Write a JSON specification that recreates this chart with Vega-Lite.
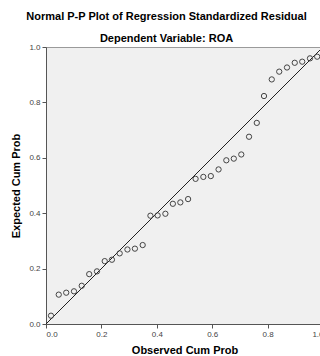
{
  "$schema": "https://vega.github.io/schema/vega-lite/v6.json",
  "width": 277,
  "height": 277,
  "autosize": {"type": "none"},
  "padding": {"left": 46, "top": 47, "right": 0, "bottom": 32},
  "background": "white",
  "title": {
    "text": ["Normal P-P Plot of Regression Standardized Residual", "Dependent Variable: ROA"],
    "font": "Liberation Sans",
    "fontSize": 11,
    "fontWeight": "bold",
    "color": "#000000",
    "lineHeight": 22,
    "anchor": "middle",
    "dx": -18,
    "offset": -1
  },
  "config": {
    "view": {"fill": "#f0f0f0", "stroke": "#9a9a9a", "strokeWidth": 1},
    "axis": {
      "labelFont": "Liberation Sans",
      "labelFontSize": 8,
      "labelColor": "#444444",
      "titleFont": "Liberation Sans",
      "titleFontSize": 11,
      "titleFontWeight": "bold",
      "titleColor": "#000000",
      "domainColor": "#555555",
      "tickColor": "#555555",
      "tickSize": 4,
      "grid": false
    }
  },
  "datasets": {
    "pts": [
      {"obs": 0.018, "exp": 0.030},
      {"obs": 0.046, "exp": 0.106},
      {"obs": 0.073, "exp": 0.113},
      {"obs": 0.101, "exp": 0.118},
      {"obs": 0.129, "exp": 0.138},
      {"obs": 0.156, "exp": 0.180},
      {"obs": 0.184, "exp": 0.190},
      {"obs": 0.212, "exp": 0.227},
      {"obs": 0.238, "exp": 0.232},
      {"obs": 0.266, "exp": 0.255},
      {"obs": 0.294, "exp": 0.269},
      {"obs": 0.321, "exp": 0.272},
      {"obs": 0.349, "exp": 0.285},
      {"obs": 0.377, "exp": 0.391},
      {"obs": 0.403, "exp": 0.392},
      {"obs": 0.431, "exp": 0.398},
      {"obs": 0.458, "exp": 0.434},
      {"obs": 0.485, "exp": 0.439},
      {"obs": 0.513, "exp": 0.451},
      {"obs": 0.540, "exp": 0.524},
      {"obs": 0.568, "exp": 0.531},
      {"obs": 0.595, "exp": 0.534},
      {"obs": 0.623, "exp": 0.558},
      {"obs": 0.651, "exp": 0.591},
      {"obs": 0.678, "exp": 0.597},
      {"obs": 0.705, "exp": 0.612},
      {"obs": 0.733, "exp": 0.676},
      {"obs": 0.761, "exp": 0.726},
      {"obs": 0.787, "exp": 0.823},
      {"obs": 0.815, "exp": 0.883},
      {"obs": 0.842, "exp": 0.911},
      {"obs": 0.870, "exp": 0.926},
      {"obs": 0.898, "exp": 0.943},
      {"obs": 0.925, "exp": 0.947},
      {"obs": 0.953, "exp": 0.959},
      {"obs": 0.979, "exp": 0.965}
    ],
    "diag": [
      {"obs": 0, "exp": 0},
      {"obs": 1, "exp": 1}
    ]
  },
  "layer": [
    {
      "data": {"name": "diag"},
      "mark": {"type": "line", "color": "#222222", "strokeWidth": 1, "clip": true},
      "encoding": {
        "x": {"field": "obs", "type": "quantitative"},
        "y": {"field": "exp", "type": "quantitative"}
      }
    },
    {
      "data": {"name": "pts"},
      "mark": {"type": "point", "shape": "circle", "filled": false, "size": 28, "stroke": "#444444", "strokeWidth": 1, "opacity": 1},
      "encoding": {
        "x": {
          "field": "obs", "type": "quantitative",
          "scale": {"domain": [0, 1], "nice": false, "zero": false},
          "axis": {"title": "Observed Cum Prob", "values": [0, 0.2, 0.4, 0.6, 0.8, 1], "format": ".1f", "titlePadding": 6}
        },
        "y": {
          "field": "exp", "type": "quantitative",
          "scale": {"domain": [0, 1], "nice": false, "zero": false},
          "axis": {"title": "Expected Cum Prob", "values": [0, 0.2, 0.4, 0.6, 0.8, 1], "format": ".1f", "titlePadding": 7}
        }
      }
    }
  ]
}
